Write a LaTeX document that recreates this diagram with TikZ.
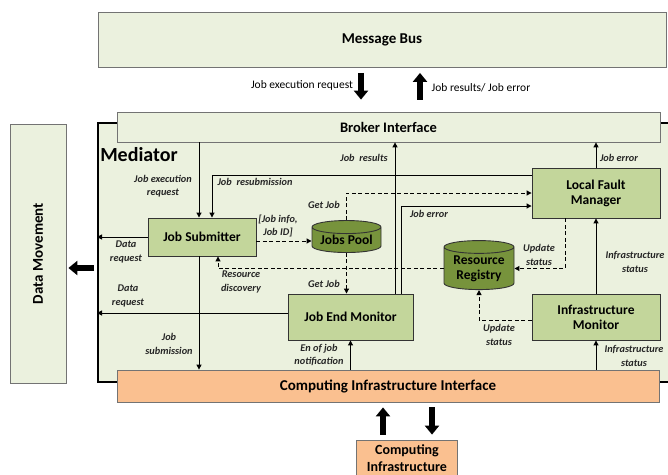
\documentclass[tikz,border=0pt]{standalone}
\usepackage{fontspec}
\setmainfont{Carlito}
\usepackage{tikz}
\usetikzlibrary{shapes.geometric,arrows.meta,positioning}
\definecolor{panelbg}{HTML}{EBF1DE}
\definecolor{modgreen}{HTML}{C3D69B}
\definecolor{dbgreen}{HTML}{77933C}
\definecolor{infraorange}{HTML}{FAC090}

\begin{document}
\begin{tikzpicture}[
  x=1pt, y=-1pt,
  every node/.append style={font=\fontsize{13.5}{15}\selectfont\bfseries, align=center, inner sep=0pt},
  panel/.style={draw=black!55, fill=panelbg, line width=0.8pt},
  module/.style={draw=black!80, fill=modgreen, line width=0.9pt},
  infra/.style={draw=black!55, fill=infraorange, line width=0.8pt},
  db/.style={cylinder, shape border rotate=90, aspect=0.25, draw=black!80,
    fill=dbgreen, line width=0.9pt},
  big/.style={font=\fontsize{14.5}{16}\selectfont\bfseries},
  lbl/.style={font=\fontsize{10.3}{13.5}\selectfont\bfseries\itshape, text=black!85},
  toplbl/.style={font=\fontsize{11.5}{13}\selectfont, text=black},
  conn/.style={-{Triangle[length=5pt,width=5pt]}, line width=1pt},
  dconn/.style={conn, dash pattern=on 4pt off 2.5pt},
  bigarrow/.style={line width=6.5pt, -{Triangle[length=9pt,width=14pt]}}
  ]
  \useasboundingbox (0,0) rectangle (668,474);
  \clip (0,0) rectangle (668,474);

  % outer blocks
  \node[panel, minimum width=568pt, minimum height=55pt,
    font=\fontsize{15}{16}\selectfont\bfseries] (mbus) at (382,40) {Message Bus};
  \node[panel, minimum width=56pt, minimum height=259pt, font=\fontsize{15}{16}\selectfont\bfseries]
    (dmov) at (38,253.5) {\rotatebox{90}{Data Movement}};
  \node[draw, fill=panelbg, line width=2pt, minimum width=577pt, minimum height=259pt]
    (mediator) at (386.5,252.5) {};
  \node[panel, minimum width=543pt, minimum height=30pt, big] (broker) at (388.5,127) {Broker Interface};
  \node[infra, minimum width=542pt, minimum height=32pt, font=\fontsize{15}{16}\selectfont\bfseries]
    (cii) at (388,386) {Computing Infrastructure Interface};
  \node[infra, minimum width=101pt, minimum height=36pt, font=\fontsize{14}{16.5}\selectfont\bfseries]
    (cinf) at (407,458) {Computing\\Infrastructure};
  \node[font=\fontsize{20}{22}\selectfont\bfseries] (medlbl) at (139,155) {Mediator};

  % mediator modules
  \node[module, minimum width=108pt, minimum height=38pt] (jsub) at (202,237) {Job Submitter};
  \node[db, minimum width=69pt, minimum height=32pt] (jpool) at (346.5,240) {Jobs Pool};
  \node[module, minimum width=128pt, minimum height=50pt] (lfm) at (596,193) {Local Fault\\Manager};
  \node[db, minimum width=70pt, minimum height=49pt] (rreg) at (479,268.5) {Resource\\Registry};
  \node[module, minimum width=125pt, minimum height=46pt] (jem) at (350.5,317) {Job End Monitor};
  \node[module, minimum width=128pt, minimum height=46pt] (imon) at (596,317)
    {Infrastructure\\Monitor};

  % block arrows
  \draw[bigarrow, shorten <=5pt, shorten >=12pt] ([xshift=-21pt]mbus.south) -- ([xshift=-27.5pt]broker.north);
  \draw[bigarrow, shorten <=12pt, shorten >=5pt] ([xshift=31.5pt]broker.north) -- ([xshift=38pt]mbus.south);
  \draw[bigarrow, shorten <=3pt, shorten >=2pt] (mediator.west |- 0,268) -- (dmov.east |- 0,268);
  \draw[bigarrow, shorten <=5pt, shorten >=5pt] ([xshift=-24pt]cinf.north) -- ([xshift=-5pt]cii.south);
  \draw[bigarrow, shorten <=5pt, shorten >=5pt] ([xshift=44pt]cii.south) -- ([xshift=25pt]cinf.north);

  % connectors
  \draw[conn] ([xshift=-3pt]jsub.north |- broker.south) -- ([xshift=-3pt]jsub.north);
  \draw[conn] ([yshift=18pt]lfm.west) -| ([xshift=10pt]jsub.north);
  \draw[conn] (jsub.west) -- (jsub.west -| mediator.west);
  \draw[conn] ([xshift=-3pt]jsub.south) -- ([xshift=-3pt]jsub.south |- cii.north);
  \draw[dconn] ([yshift=-4pt]jsub.east) -- ([yshift=-4pt]jsub.east -| jpool.west);
  \draw[dconn] (jpool.north) |- (lfm.west);
  \draw[dconn] (jpool.south) -- (jpool.south |- jem.north);
  \draw[dconn] (rreg.west) -| ([xshift=16pt]jsub.south);
  \draw[conn] ([xshift=44.5pt]jem.north) -- ([xshift=44.5pt]jem.north |- broker.south);
  \draw[conn] ([xshift=50.5pt]jem.north) |- ([yshift=-13pt]lfm.west);
  \draw[conn] (lfm.north) -- (broker.south -| lfm.north);
  \draw[dconn] ([xshift=-31pt]lfm.south) |- (rreg.east);
  \draw[conn] (imon.north) -- (lfm.south);
  \draw[dconn] ([yshift=-3pt]imon.west) -| (rreg.south);
  \draw[conn] (imon.south |- cii.north) -- (imon.south);
  \draw[conn] (jem.south |- cii.north) -- (jem.south);
  \draw[conn] ([yshift=4pt]jem.west) -- ([yshift=4pt]jem.west -| mediator.west);

  % labels
  \node[toplbl] (l1) at (302,85) {Job execution request};
  \node[toplbl] (l2) at (481,88) {Job results/ Job error};
  \node[lbl] (l3) at (163,186) {Job execution\\request};
  \node[lbl] (l4) at (255,182) {Job\ \ resubmission};
  \node[lbl] (l5) at (126,252) {Data\\request};
  \node[lbl] (l6) at (278,226) {[Job info,\\Job ID]};
  \node[lbl] (l7) at (324,205) {Get Job};
  \node[lbl] (l8) at (241,282) {Resource\\discovery};
  \node[lbl] (l9) at (324,284) {Get Job};
  \node[lbl] (l10) at (128,296) {Data\\request};
  \node[lbl] (l11) at (169,344) {Job\\submission};
  \node[lbl] (l12) at (319,355) {En of job\\notification};
  \node[lbl] (l13) at (364,158) {Job\ \ results};
  \node[lbl] (l14) at (429,214) {Job error};
  \node[lbl] (l15) at (619,158) {Job error};
  \node[lbl] (l16) at (539,255) {Update\\status};
  \node[lbl] (l17) at (635,262) {Infrastructure\\status};
  \node[lbl] (l18) at (499,335) {Update\\status};
  \node[lbl] (l19) at (634,356) {Infrastructure\\status};
\end{tikzpicture}
\end{document}
